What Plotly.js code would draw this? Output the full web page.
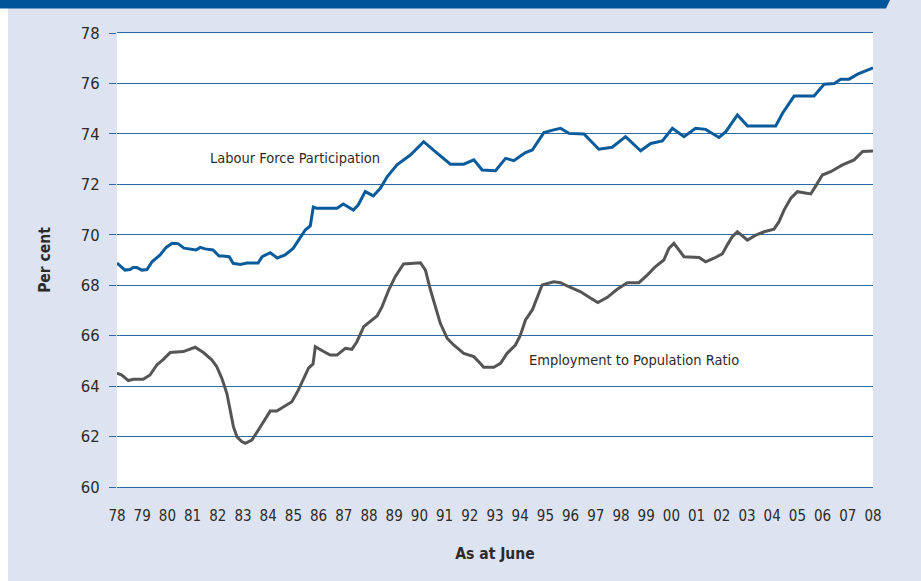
<!DOCTYPE html>
<html>
<head>
<meta charset="utf-8">
<script src="https://cdn.plot.ly/plotly-3.0.1.min.js"></script>
<style>
  html, body { margin: 0; padding: 0; background: #ffffff; }
  #chart { width: 921px; height: 581px; }
</style>
</head>
<body>
<div id="chart"></div>
<script>
// ---- Data ----
const tickYears = [1978,1979,1980,1981,1982,1983,1984,1985,1986,1987,1988,1989,1990,1991,1992,1993,1994,1995,1996,1997,1998,1999,2000,2001,2002,2003,2004,2005,2006,2007,2008];
const tickLabels = ['78','79','80','81','82','83','84','85','86','87','88','89','90','91','92','93','94','95','96','97','98','99','00','01','02','03','04','05','06','07','08'];

const lfpYears = [1978.00,1978.32,1978.52,1978.64,1978.79,1978.99,1979.19,1979.39,1979.71,1979.95,1980.19,1980.42,1980.66,1980.90,1981.14,1981.30,1981.50,1981.81,1982.05,1982.21,1982.45,1982.61,1982.89,1983.16,1983.48,1983.60,1983.76,1984.08,1984.36,1984.67,1984.99,1985.27,1985.47,1985.67,1985.79,1985.93,1986.73,1986.98,1987.38,1987.57,1987.85,1988.17,1988.45,1988.72,1989.11,1989.64,1990.17,1990.63,1991.23,1991.76,1992.16,1992.49,1993.02,1993.42,1993.75,1994.01,1994.21,1994.48,1994.94,1995.33,1995.60,1995.93,1996.53,1997.12,1997.65,1998.18,1998.78,1999.18,1999.64,2000.04,2000.50,2000.96,2001.36,2001.89,2002.16,2002.62,2003.02,2004.14,2004.41,2004.87,2005.66,2006.06,2006.46,2006.72,2007.05,2007.39,2007.79,2008.00];
const lfpValues = [68.88,68.60,68.62,68.70,68.70,68.60,68.62,68.93,69.20,69.50,69.66,69.65,69.47,69.44,69.40,69.50,69.44,69.40,69.16,69.16,69.13,68.87,68.82,68.88,68.90,68.88,69.13,69.29,69.08,69.20,69.46,69.86,70.19,70.35,71.10,71.05,71.05,71.22,70.98,71.18,71.71,71.54,71.84,72.30,72.77,73.16,73.69,73.30,72.80,72.80,72.97,72.57,72.54,73.03,72.94,73.12,73.26,73.36,74.05,74.16,74.22,74.02,74.00,73.39,73.47,73.89,73.33,73.62,73.72,74.22,73.89,74.22,74.18,73.86,74.09,74.75,74.31,74.31,74.82,75.50,75.50,75.97,76.00,76.17,76.17,76.37,76.53,76.62];

const eprYears = [1978.00,1978.19,1978.45,1978.65,1979.04,1979.31,1979.58,1979.84,1980.11,1980.63,1981.10,1981.43,1981.76,1981.96,1982.16,1982.36,1982.49,1982.62,1982.76,1982.95,1983.09,1983.35,1983.61,1983.88,1984.08,1984.34,1984.61,1984.94,1985.20,1985.40,1985.60,1985.78,1985.87,1986.20,1986.46,1986.73,1987.06,1987.32,1987.52,1987.79,1988.05,1988.32,1988.52,1988.78,1989.04,1989.37,1990.04,1990.24,1990.44,1990.63,1990.83,1991.10,1991.36,1991.76,1992.16,1992.42,1992.55,1992.95,1993.22,1993.48,1993.81,1994.00,1994.21,1994.48,1994.68,1994.87,1995.33,1995.60,1995.93,1996.40,1996.80,1997.08,1997.46,1997.85,1998.25,1998.71,1999.05,1999.37,1999.70,1999.90,2000.10,2000.30,2000.50,2001.10,2001.36,2001.69,2002.02,2002.22,2002.42,2002.62,2003.02,2003.35,2003.68,2004.07,2004.27,2004.47,2004.74,2005.00,2005.53,2005.73,2005.99,2006.32,2006.79,2007.25,2007.59,2008.00];
const eprValues = [64.51,64.44,64.22,64.27,64.27,64.44,64.84,65.06,65.33,65.37,65.54,65.33,65.04,64.77,64.31,63.71,63.05,62.39,61.99,61.80,61.73,61.86,62.26,62.72,63.01,63.01,63.18,63.38,63.85,64.31,64.71,64.88,65.56,65.37,65.23,65.23,65.50,65.46,65.76,66.36,66.55,66.78,67.15,67.81,68.34,68.84,68.89,68.60,67.81,67.15,66.49,65.90,65.63,65.30,65.17,64.90,64.75,64.75,64.90,65.30,65.63,66.00,66.62,67.02,67.55,68.01,68.14,68.10,67.94,67.74,67.48,67.31,67.52,67.84,68.10,68.10,68.41,68.74,69.00,69.46,69.66,69.40,69.13,69.10,68.93,69.07,69.24,69.60,69.93,70.12,69.79,69.99,70.12,70.22,70.52,70.98,71.45,71.71,71.62,71.94,72.37,72.50,72.77,72.97,73.30,73.32];

const seriesNames = ['Labour Force Participation', 'Employment to Population Ratio'];
const yTicks = [60,62,64,66,68,70,72,74,76,78];

// ---- Styles ----
const FONT = 'Liberation Sans Narrow, DejaVu Sans Condensed, Arial Narrow, sans-serif';
const GRID = '#2f69a6';
const TEXT = '#2b2b2b';
const BG = '#dde3f0';

// paper coordinate helpers (plot area: 117..873 px, 33..487 px)
const PL = 117, PR = 873, PT = 33, PB = 487;
const px = v => (v - PL) / (PR - PL);
const py = v => (PB - v) / (PB - PT);

const traces = [
  { x: lfpYears, y: lfpValues, name: seriesNames[0], type: 'scatter', mode: 'lines',
    line: { color: '#0a5b9c', width: 3 }, hoverinfo: 'x+y' },
  { x: eprYears, y: eprValues, name: seriesNames[1], type: 'scatter', mode: 'lines',
    line: { color: '#555555', width: 3 }, hoverinfo: 'x+y' }
];

const layout = {
  width: 921, height: 581,
  margin: { l: PL, r: 921 - PR, t: PT, b: 581 - PB, pad: 0 },
  paper_bgcolor: BG,
  plot_bgcolor: '#ffffff',
  showlegend: false,
  font: { family: FONT, color: TEXT },
  xaxis: {
    range: [1978, 2008],
    tickmode: 'array', tickvals: tickYears, ticktext: tickLabels,
    tickfont: { family: FONT, size: 15, color: TEXT },
    ticks: '', ticklabelstandoff: 15,
    showgrid: false, zeroline: false,
    showline: true, mirror: true, linecolor: GRID, linewidth: 1,
    title: { text: '<b>As at June</b>', font: { family: FONT, size: 15.5, color: TEXT }, standoff: 24 },
    automargin: false, fixedrange: true
  },
  yaxis: {
    range: [60, 78],
    tickmode: 'array', tickvals: yTicks,
    tickfont: { family: FONT, size: 16.5, color: TEXT },
    ticks: 'outside', ticklen: 7, tickcolor: GRID, tickwidth: 1,
    ticklabelstandoff: 6,
    showgrid: true, gridcolor: GRID, gridwidth: 1,
    zeroline: false, showline: false,
    title: { text: '<b>Per cent</b>', font: { family: FONT, size: 15.5, color: TEXT }, standoff: 26 },
    automargin: false, fixedrange: true
  },
  shapes: [
    // white strip at the far left
    { type: 'rect', xref: 'paper', yref: 'paper', x0: px(0), x1: px(8), y0: py(581), y1: py(0),
      fillcolor: '#ffffff', line: { width: 0 }, layer: 'below' },
    // dark blue banner with slanted right end
    { type: 'path', xref: 'paper', yref: 'paper',
      path: `M ${px(0)} ${py(0)} L ${px(890)} ${py(0)} L ${px(886)} ${py(8.5)} L ${px(0)} ${py(8.5)} Z`,
      fillcolor: '#00559a', line: { width: 0 }, layer: 'above' }
  ],
  annotations: [
    { x: 1981.6, y: 73.05, xref: 'x', yref: 'y', text: seriesNames[0], showarrow: false,
      xanchor: 'left', yanchor: 'middle', font: { family: FONT, size: 14.5, color: TEXT } },
    { x: 1994.25, y: 65.03, xref: 'x', yref: 'y', text: seriesNames[1], showarrow: false,
      xanchor: 'left', yanchor: 'middle', font: { family: FONT, size: 14.5, color: TEXT } }
  ]
};

Plotly.newPlot('chart', traces, layout, { displayModeBar: false, staticPlot: true });
</script>
</body>
</html>
